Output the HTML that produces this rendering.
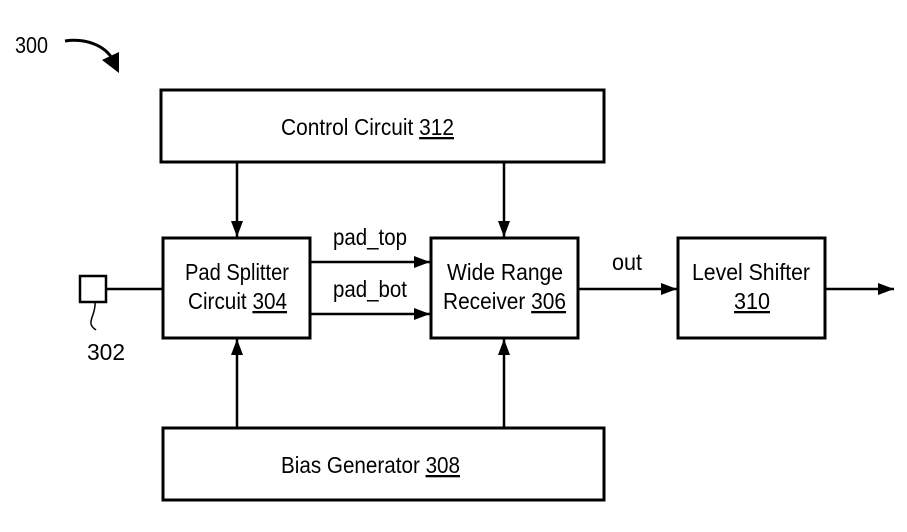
<!DOCTYPE html>
<html><head><meta charset="utf-8"><style>
html,body{margin:0;padding:0;background:#fff;}
svg{display:block;}
text{font-family:"Liberation Sans",Arial,sans-serif;font-size:23px;fill:#000;}
</style></head><body>
<svg width="907" height="532" viewBox="0 0 907 532" xmlns="http://www.w3.org/2000/svg">
<defs>
<marker id="a" markerWidth="16" markerHeight="12" refX="16" refY="6" orient="auto" markerUnits="userSpaceOnUse">
<path d="M0,0 L16,6 L0,12 Z" fill="#000"/></marker>
</defs>
<g fill="none" stroke="#000" stroke-width="3">
<rect x="161" y="90" width="443" height="72"/>
<rect x="163" y="238" width="147" height="100"/>
<rect x="431" y="238" width="147" height="100"/>
<rect x="678" y="238" width="147" height="100"/>
<rect x="163" y="428" width="441" height="72"/>
<rect x="80" y="276" width="26" height="26" stroke-width="2.5"/>
</g>
<g stroke="#000" stroke-width="2.5" fill="none">
<line x1="106" y1="289" x2="163" y2="289"/>
<line x1="237" y1="162" x2="237" y2="237" marker-end="url(#a)"/>
<line x1="504" y1="162" x2="504" y2="237" marker-end="url(#a)"/>
<line x1="237" y1="428" x2="237" y2="339" marker-end="url(#a)"/>
<line x1="504" y1="428" x2="504" y2="339" marker-end="url(#a)"/>
<line x1="310" y1="262" x2="430" y2="262" marker-end="url(#a)"/>
<line x1="310" y1="314" x2="430" y2="314" marker-end="url(#a)"/>
<line x1="578" y1="289" x2="677" y2="289" marker-end="url(#a)"/>
<line x1="825" y1="289" x2="894" y2="289" marker-end="url(#a)"/>
<path d="M95,302 C96,312 90,318 91,324 C92,328 95,329 96,330" stroke-width="1.5"/>
<path d="M65,41 C85,38 105,45 113,60" stroke-width="3"/>
</g>
<path d="M102,60 L119,52 L119,73 Z" fill="#000"/>
<text x="15" y="53" textLength="33" lengthAdjust="spacingAndGlyphs">300</text>
<text x="87" y="360" textLength="38" lengthAdjust="spacingAndGlyphs">302</text>
<text x="281" y="135" textLength="173" lengthAdjust="spacingAndGlyphs">Control Circuit <tspan text-decoration="underline">312</tspan></text>
<text x="185" y="280" textLength="104" lengthAdjust="spacingAndGlyphs">Pad Splitter</text>
<text x="188" y="309" textLength="99" lengthAdjust="spacingAndGlyphs">Circuit <tspan text-decoration="underline">304</tspan></text>
<text x="447" y="280" textLength="116" lengthAdjust="spacingAndGlyphs">Wide Range</text>
<text x="443" y="309" textLength="123" lengthAdjust="spacingAndGlyphs">Receiver <tspan text-decoration="underline">306</tspan></text>
<text x="692" y="280" textLength="118" lengthAdjust="spacingAndGlyphs">Level Shifter</text>
<text x="734" y="309" textLength="36" lengthAdjust="spacingAndGlyphs" text-decoration="underline">310</text>
<text x="281" y="473" textLength="179" lengthAdjust="spacingAndGlyphs">Bias Generator <tspan text-decoration="underline">308</tspan></text>
<text x="333" y="245" textLength="74" lengthAdjust="spacingAndGlyphs">pad_top</text>
<text x="333" y="297" textLength="74" lengthAdjust="spacingAndGlyphs">pad_bot</text>
<text x="612" y="270" textLength="30" lengthAdjust="spacingAndGlyphs">out</text>
</svg>
</body></html>
